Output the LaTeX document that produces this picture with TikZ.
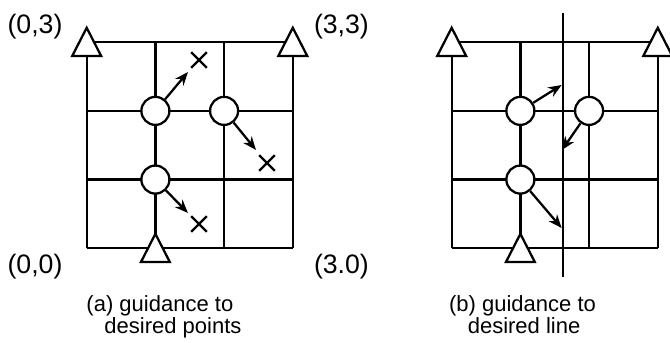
\documentclass[tikz,border=0pt]{standalone}
\usepackage{fontspec}
\setmainfont{Liberation Sans}
\usetikzlibrary{arrows.meta,shapes.misc}
\tikzset{
    joint/.style={circle,draw,fill=white,minimum size=21pt,inner sep=0pt},
    goal/.style={cross out,draw,minimum size=10pt,inner sep=0pt},
    guide/.style={-{Stealth[length=10pt,width=8pt]}},
    mount/.style={draw,fill=white},
    corner/.style={font=\fontsize{20}{24}\selectfont},
    caption/.style={font=\fontsize{16.5}{17}\selectfont,align=left,anchor=base west,inner sep=0pt}
}
\begin{document}
\begin{tikzpicture}[x=51.5pt,y=51.5pt,line width=1.7pt]
                \useasboundingbox (-1.262,-1.378) rectangle (8.491,3.614);
                \draw (0,0) grid[step={(1,1)}] (3,3);
                \foreach \p in {(0,3),(3,3),(1,0)}\path[mount] \p ++(-0.21,-0.2) -- ++(0.42,0) -- ++(-0.21,0.41) -- cycle;
                \node[joint] (a1) at (1,2) {};
                \node[joint] (a2) at (2,2) {};
                \node[joint] (a3) at (1,1) {};
                \node[goal] (p1) at (1.635,2.741) {};
                \node[goal] (p2) at (2.624,1.242) {};
                \node[goal] (p3) at (1.635,0.354) {};
                \path
                (1.474,2.566) coordinate (t1)
                (2.464,1.431) coordinate (t2)
                (1.474,0.514) coordinate (t3)
                ;
                \foreach \c/\t in {a1/t1,a2/t2,a3/t3}\draw[guide] (\c) -- (\t);
                \node[corner] (l03) at (-0.753,3.221) {(0,3)};
                \node[corner] (l00) at (-0.753,-0.272) {(0,0)};
                \node[corner] (l33) at (3.708,3.221) {(3,3)};
                \node[corner] (l30) at (3.708,-0.272) {(3.0)};
                \node[caption] (capa) at (-0.02,-1.247) {(a) guidance to\\\hspace*{13.5pt}desired points};
                \begin{scope}[xshift=5.313*51.5pt]
                \draw (0,0) grid[step={(1,1)}] (3,3);
                \path (1.616,3.425) coordinate (L1) (1.616,-0.418) coordinate (L2);
                \draw[line width=1.4pt] (L1) -- (L2);
                \foreach \p in {(0,3),(3,3),(1,0)}\path[mount] \p ++(-0.21,-0.2) -- ++(0.42,0) -- ++(-0.21,0.41) -- cycle;
                \node[joint] (b1) at (1,2) {};
                \node[joint] (b2) at (2,2) {};
                \node[joint] (b3) at (1,1) {};
                \path
                (1.600,2.377) coordinate (s1)
                (1.606,1.431) coordinate (s2)
                (1.600,0.295) coordinate (s3)
                ;
                \foreach \c/\t in {b1/s1,b2/s2,b3/s3}\draw[guide] (\c) -- (\t);
                \node[caption] (capb) at (-0.054,-1.247) {(b) guidance to\\\hspace*{14pt}desired line};
                \end{scope}
            \end{tikzpicture}
\end{document}
